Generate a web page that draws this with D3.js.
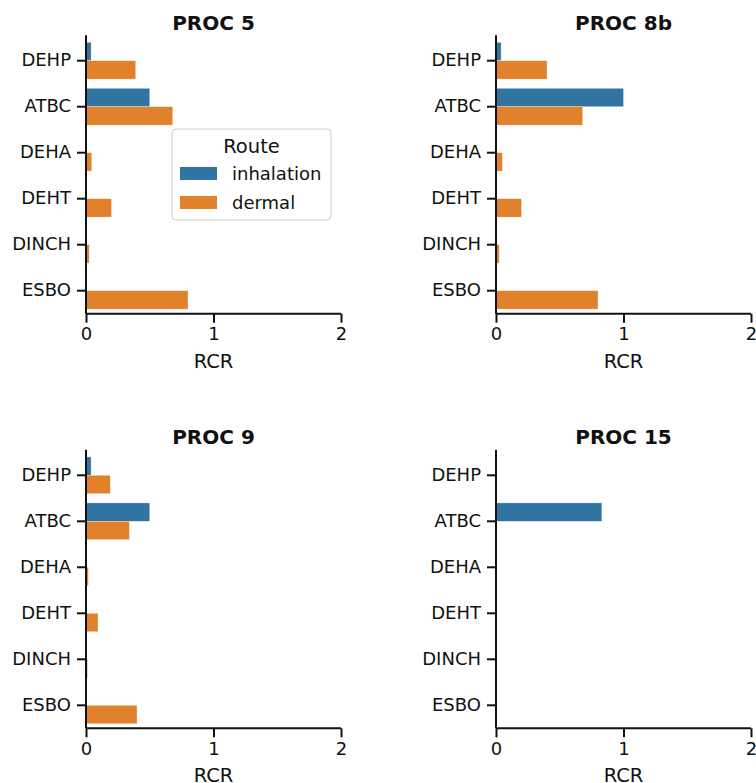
<!DOCTYPE html>
<html><head><meta charset="utf-8">
<script src="https://cdn.jsdelivr.net/npm/d3@7"></script>
<style>body{margin:0;background:#fff}svg{display:block}text{font-family:"DejaVu Sans",sans-serif;fill:#111}</style>
</head><body><svg id="c" width="756" height="783"></svg>
<script>
const categories = ["DEHP","ATBC","DEHA","DEHT","DINCH","ESBO"];
const routes = ["inhalation","dermal"];
const panels = ["PROC 5","PROC 8b","PROC 9","PROC 15"];
const inhalation = {
  "PROC 5":  [0.04, 0.50, 0, 0, 0, 0],
  "PROC 8b": [0.04, 1.00, 0, 0, 0, 0],
  "PROC 9":  [0.04, 0.50, 0, 0, 0, 0],
  "PROC 15": [0, 0.83, 0, 0, 0, 0]
};
const dermal = {
  "PROC 5":  [0.39, 0.68, 0.045, 0.20, 0.025, 0.80],
  "PROC 8b": [0.40, 0.68, 0.05, 0.20, 0.025, 0.80],
  "PROC 9":  [0.19, 0.34, 0.018, 0.094, 0.012, 0.40],
  "PROC 15": [0, 0, 0, 0, 0, 0]
};
const xTicks = [0, 1, 2];
const colors = {inhalation: "#3274a1", dermal: "#e1812c"};

const svg = d3.select("#c");
const layout = [
  {x0: 86, x1: 341, y0: 37.7, y1: 313.7},
  {x0: 496, x1: 751, y0: 37.7, y1: 313.7},
  {x0: 86, x1: 341, y0: 452.3, y1: 728.3},
  {x0: 496, x1: 751, y0: 452.3, y1: 728.3}
];
panels.forEach((p, i) => {
  const L = layout[i];
  const x = d3.scaleLinear().domain([0, 2]).range([L.x0, L.x1]);
  const y = d3.scaleBand().domain(categories).range([L.y0, L.y1]).paddingInner(0.2).paddingOuter(0.1);
  const inner = d3.scaleBand().domain(routes).range([0, y.bandwidth()]);
  const g = svg.append("g");
  categories.forEach((c, j) => {
    routes.forEach(r => {
      const v = (r === "inhalation" ? inhalation : dermal)[p][j];
      if (v <= 0) return;
      g.append("rect")
        .attr("x", x(0)).attr("y", y(c) + inner(r))
        .attr("width", x(v) - x(0)).attr("height", inner.bandwidth())
        .attr("fill", colors[r]).attr("stroke", "#fff").attr("stroke-opacity", 0.6).attr("stroke-width", 0.5);
    });
  });
  const xa = g.append("g").attr("transform", `translate(0,${L.y1})`)
    .call(d3.axisBottom(x).tickValues(xTicks).tickFormat(d3.format("d")).tickSize(9).tickPadding(5).tickSizeOuter(0));
  const ya = g.append("g").attr("transform", `translate(${L.x0},0)`)
    .call(d3.axisLeft(y).tickSize(9).tickPadding(6).tickSizeOuter(0));
  [xa, ya].forEach(a => {
    a.selectAll("path").attr("stroke", "#111").attr("stroke-width", 2);
    a.selectAll(".tick line").attr("stroke", "#111").attr("stroke-width", 2);
    a.selectAll("text").attr("font-size", 18).attr("fill", "#111").attr("font-family", "DejaVu Sans");
  });
  ya.select("path").attr("d", `M0,${L.y0 - 2.5}V${L.y1}`);
  xa.select("path").attr("d", `M${L.x0},0H${L.x1}`);
  g.append("text").attr("x", (L.x0 + L.x1) / 2).attr("y", L.y1 + 54)
    .attr("text-anchor", "middle").attr("font-size", 19.5).text("RCR");
  g.append("text").attr("x", (L.x0 + L.x1) / 2).attr("y", L.y0 - 8)
    .attr("text-anchor", "middle").attr("font-size", 20).attr("font-weight", "bold").text(p);
});

// legend
const lg = svg.append("g");
lg.append("rect").attr("x", 172).attr("y", 129).attr("width", 159).attr("height", 91).attr("rx", 4)
  .attr("fill", "#fff").attr("fill-opacity", 0.8).attr("stroke", "#ccc").attr("stroke-width", 1);
lg.append("text").attr("x", 251.5).attr("y", 153).attr("text-anchor", "middle").attr("font-size", 19.5).text("Route");
routes.forEach((r, k) => {
  lg.append("rect").attr("x", 180).attr("y", 167 + k * 29).attr("width", 37).attr("height", 13).attr("fill", colors[r]);
  lg.append("text").attr("x", 232).attr("y", 180 + k * 29).attr("font-size", 18).text(r);
});
</script></body></html>
